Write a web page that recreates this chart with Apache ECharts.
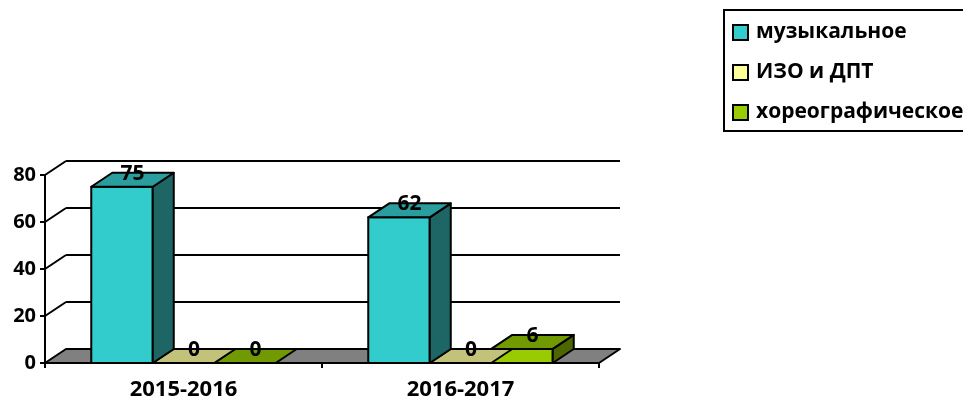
<!DOCTYPE html>
<html><head><meta charset="utf-8">
<script src="https://cdn.jsdelivr.net/npm/echarts@6/dist/echarts.min.js"></script>
<style>html,body{margin:0;padding:0;background:#fff}#main{width:963px;height:401px}</style>
</head><body><div id="main"></div>
<script>
const years = ['2015-2016', '2016-2017']
const musical = [75, 62]
const izo = [0, 0]
const choreo = [0, 6]
const yTicks = [0, 20, 40, 60, 80]
const seriesNames = ['музыкальное', 'ИЗО и ДПТ', 'хореографическое']
const seriesValues = [musical, izo, choreo]
const legendColors = ['#33CCCC', '#FFFF99', '#99CC00']

// 3d look: depth offset of the back wall and of bar tops
const DX = 21, DY = -14
const FONT = '"Open Sans", "Noto Sans", sans-serif'
const faces = [
  {front: '#33CCCC', top: '#2A9E9E', side: '#1E6666'},
  {front: '#FFFF99', top: '#C2C27A', side: '#80804D'},
  {front: '#99CC00', top: '#719900', side: '#4D6600'}
]
const BAR_FRAC = 0.222
const edge = {stroke: '#000', lineWidth: 2, lineJoin: 'round'}

function barRender(s) {
  return function (params, api) {
    const idx = api.value(0), val = api.value(1)
    const w = api.size([1, 0])[0] * BAR_FRAC
    const x = api.coord([idx, 0])[0] - 1.5 * w + s * w
    const top = api.coord([idx, val])[1]
    const base = api.coord([idx, 0])[1]
    const f = faces[s]
    const kids = []
    if (base - top > 0.5) {
      kids.push({type: 'rect', shape: {x: x, y: top, width: w, height: base - top}, style: Object.assign({fill: f.front}, edge)})
      kids.push({type: 'polygon', shape: {points: [[x + w, top], [x + w + DX, top + DY], [x + w + DX, base + DY], [x + w, base]]}, style: Object.assign({fill: f.side}, edge)})
    }
    kids.push({type: 'polygon', shape: {points: [[x, top], [x + w, top], [x + w + DX, top + DY], [x + DX, top + DY]]}, style: Object.assign({fill: f.top}, edge)})
    kids.push({type: 'text', z2: 10, style: {text: String(val), x: x + w / 2 + DX / 2, y: top + DY + 1, align: 'center', verticalAlign: 'middle',
      fontSize: 21, fontWeight: 'bold', fontFamily: FONT, fill: '#000'}})
    return {type: 'group', children: kids}
  }
}

function frameRender(params, api) {
  const cs = params.coordSys
  const v = api.value(1)
  const y = api.coord([0, v])[1]
  const x0 = cs.x, x1 = cs.x + cs.width
  if (v === 0) {
    return {type: 'polygon', shape: {points: [[x0, y], [x1, y], [x1 + DX, y + DY], [x0 + DX, y + DY]]}, style: Object.assign({fill: '#808080'}, edge)}
  }
  return {type: 'group', children: [
    {type: 'line', shape: {x1: x0, y1: y, x2: x0 + DX, y2: y + DY}, style: edge},
    {type: 'line', shape: {x1: x0 + DX, y1: y + DY, x2: x1 + DX, y2: y + DY}, style: edge}
  ]}
}

const series = [{
  type: 'custom', name: 'frame', z: 1, silent: true, renderItem: frameRender,
  data: yTicks.map(v => [0, v])
}]
seriesNames.forEach((name, s) => {
  series.push({
    type: 'custom', name: name, z: 5 - s, renderItem: barRender(s),
    itemStyle: {color: legendColors[s]},
    data: seriesValues[s].map((v, i) => [i, v])
  })
})

const chart = echarts.init(document.getElementById('main'))
chart.setOption({
  animation: false,
  backgroundColor: '#fff',
  grid: {left: 45, right: 364, top: 175, bottom: 38},
  legend: {
    data: seriesNames, orient: 'vertical', left: 724, top: 10, icon: 'rect',
    itemWidth: 15, itemHeight: 15, itemGap: 19, padding: [12, 60, 8, 8],
    borderColor: '#000', borderWidth: 2, selectedMode: false,
    itemStyle: {borderColor: '#000', borderWidth: 2},
    textStyle: {fontSize: 21, fontWeight: 'bold', fontFamily: FONT, color: '#000', padding: [0, 0, 0, 3]}
  },
  xAxis: {
    type: 'category', data: years,
    axisLine: {lineStyle: {color: '#000', width: 2}},
    axisTick: {show: true, length: 5, lineStyle: {color: '#000', width: 2}},
    axisLabel: {fontSize: 22, fontWeight: 'bold', fontFamily: FONT, color: '#000', margin: 16}
  },
  yAxis: {
    type: 'value', min: 0, max: 80, interval: 20,
    axisLine: {show: true, lineStyle: {color: '#000', width: 2}},
    axisTick: {show: true, length: 5, lineStyle: {color: '#000', width: 2}},
    splitLine: {show: false},
    axisLabel: {fontSize: 20, fontWeight: 'bold', fontFamily: FONT, color: '#000', margin: 9}
  },
  series: series
})
</script>
</body></html>
